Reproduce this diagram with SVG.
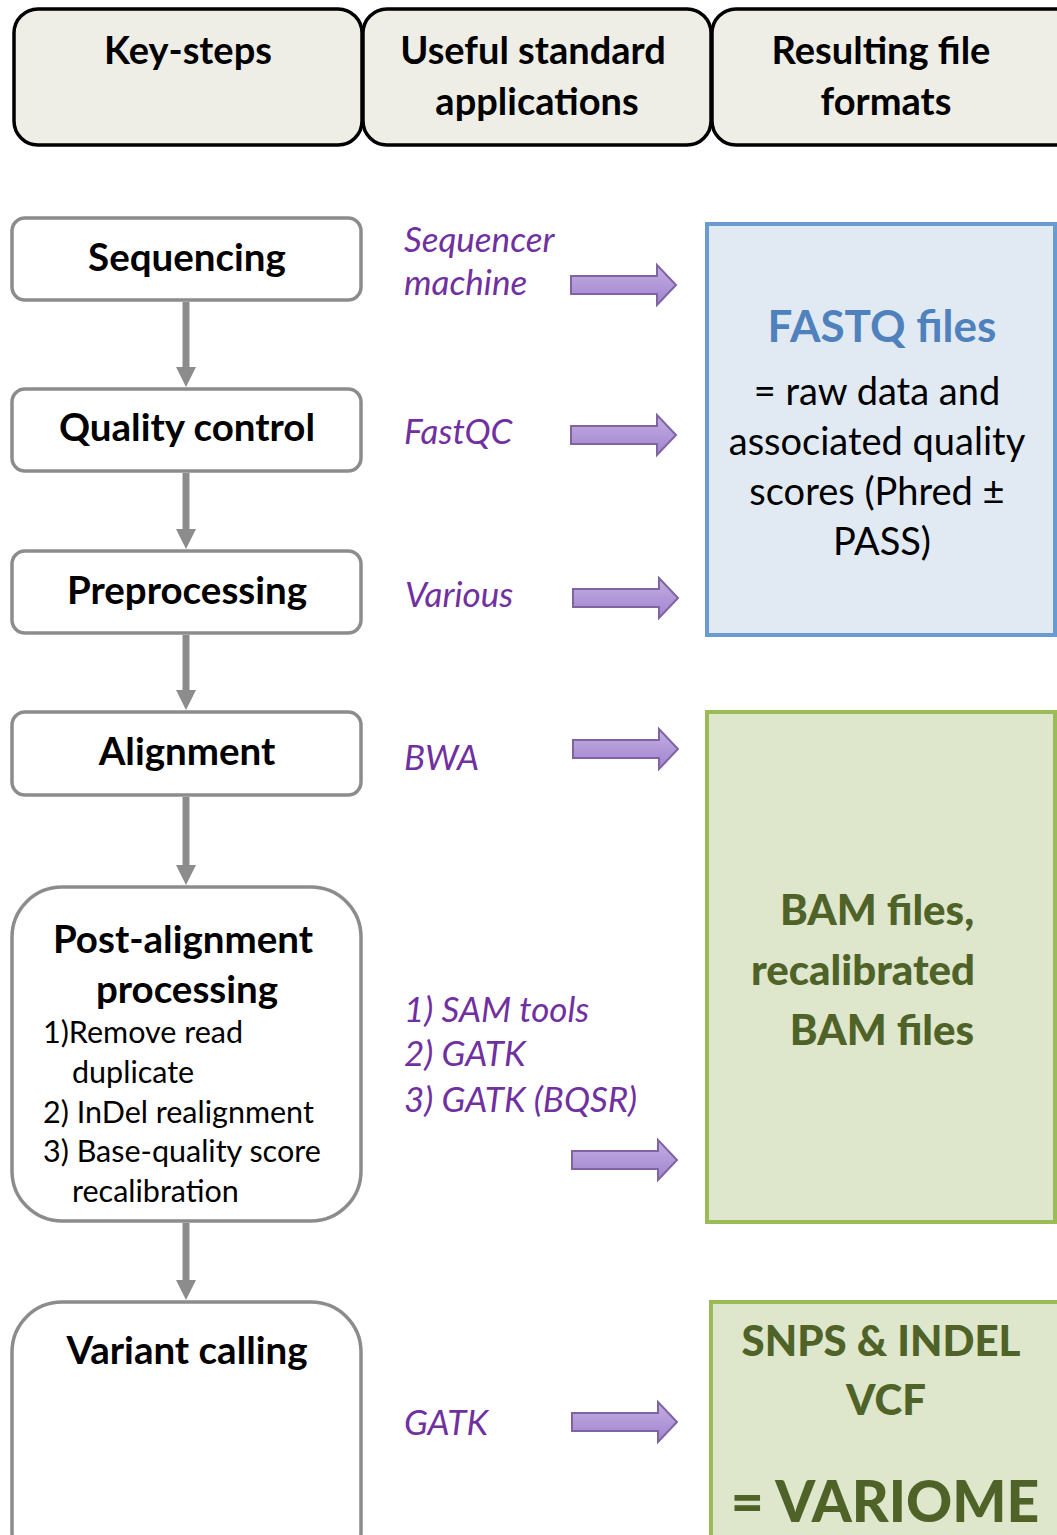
<svg xmlns="http://www.w3.org/2000/svg" width="1057" height="1535" viewBox="0 0 1057 1535">
  <defs>
    <linearGradient id="purpleFill" x1="0" y1="0" x2="0" y2="1">
      <stop offset="0" stop-color="#c2aee2"/>
      <stop offset="1" stop-color="#a184cf"/>
    </linearGradient>
    <!-- downward arrowhead, tip at origin -->
    <path id="downHead" d="M-10,-20 L10,-20 L0,0 Z"/>
    <!-- block arrow pointing right, origin at body left / arrow centre -->
    <path id="blockArrow" d="M0,-9 L86,-9 L86,-20 L105,0 L86,20 L86,9 L0,9 Z"/>
  </defs>
  <style>
    text { font-family: Lato, "Open Sans", "Liberation Sans", sans-serif; }
    .hdr { fill: #eeeee6; stroke: #000; stroke-width: 3.5; }
    .hdrT { font-size: 38px; font-weight: bold; fill: #000; text-anchor: middle; }
    .step { fill: #fff; stroke: #8c8c8c; stroke-width: 3.5; }
    .stepT { font-size: 38.5px; font-weight: bold; fill: #000; text-anchor: middle; }
    .sub { font-size: 30.5px; fill: #000; }
    .app { font-size: 35px; font-style: italic; fill: #7030a0; }
    .flow { stroke: #8c8c8c; stroke-width: 7; fill: none; }
    .head { fill: #8c8c8c; }
    .blk { fill: url(#purpleFill); stroke: #8064a2; stroke-width: 2; }
    .fastq { fill: #e1e9f3; stroke: #6a9bd0; stroke-width: 4; }
    .bam { fill: #dee6cb; stroke: #9bbb59; stroke-width: 4; }
    .blueT { font-size: 44px; font-weight: bold; fill: #4f81bd; text-anchor: middle; }
    .bodyT { font-size: 38px; fill: #000; text-anchor: middle; }
    .greenT { font-size: 42px; font-weight: 900; fill: #4f6228; text-anchor: middle; }
  </style>

  <!-- column headers -->
  <g id="hdr-keysteps">
    <rect class="hdr" x="14" y="9" width="348" height="136" rx="24"/>
    <text class="hdrT" x="188" y="64">Key-steps</text>
  </g>
  <g id="hdr-apps">
    <rect class="hdr" x="363" y="9" width="348" height="136" rx="24"/>
    <text class="hdrT" x="533" y="64">Useful standard</text>
    <text class="hdrT" x="537" y="115">applications</text>
  </g>
  <g id="hdr-formats">
    <rect class="hdr" x="712" y="9" width="370" height="136" rx="24"/>
    <text class="hdrT" x="881" y="64">Resulting file</text>
    <text class="hdrT" x="886" y="115">formats</text>
  </g>

  <!-- pipeline steps -->
  <g id="step-sequencing">
    <rect class="step" x="12" y="218" width="349" height="82" rx="13"/>
    <text class="stepT" x="187" y="271">Sequencing</text>
  </g>
  <g id="step-qc">
    <rect class="step" x="12" y="389" width="349" height="82" rx="13"/>
    <text class="stepT" x="187" y="441">Quality control</text>
  </g>
  <g id="step-preprocessing">
    <rect class="step" x="12" y="551" width="349" height="82" rx="13"/>
    <text class="stepT" x="187" y="604">Preprocessing</text>
  </g>
  <g id="step-alignment">
    <rect class="step" x="12" y="712" width="349" height="83" rx="13"/>
    <text class="stepT" x="187" y="765">Alignment</text>
  </g>
  <g id="step-postalignment">
    <rect class="step" x="12" y="887" width="349" height="334" rx="50"/>
    <text class="stepT" x="183" y="953">Post-alignment</text>
    <text class="stepT" x="187" y="1003">processing</text>
    <text class="sub" x="43" y="1043">1)Remove read</text>
    <text class="sub" x="72" y="1083">duplicate</text>
    <text class="sub" x="43" y="1123">2) InDel realignment</text>
    <text class="sub" x="43" y="1162">3) Base-quality score</text>
    <text class="sub" x="72" y="1202">recalibration</text>
  </g>
  <g id="step-variantcalling">
    <rect class="step" x="12" y="1302" width="349" height="280" rx="50"/>
    <text class="stepT" x="187" y="1364">Variant calling</text>
  </g>

  <!-- applications -->
  <g id="app-sequencer">
    <text class="app" x="404" y="252">Sequencer</text>
    <text class="app" x="404" y="295">machine</text>
  </g>
  <g id="app-fastqc"><text class="app" x="404" y="444">FastQC</text></g>
  <g id="app-various"><text class="app" x="405" y="607">Various</text></g>
  <g id="app-bwa"><text class="app" x="404" y="770">BWA</text></g>
  <g id="app-postalign">
    <text class="app" x="404" y="1022">1) SAM tools</text>
    <text class="app" x="404" y="1066">2) GATK</text>
    <text class="app" x="404" y="1112">3) GATK (BQSR)</text>
  </g>
  <g id="app-gatk"><text class="app" x="404" y="1435">GATK</text></g>

  <!-- resulting file formats -->
  <g id="fmt-fastq">
    <rect class="fastq" x="707" y="224" width="348" height="411"/>
    <text class="blueT" x="882" y="342">FASTQ files</text>
    <text class="bodyT" x="877" y="405">= raw data and</text>
    <text class="bodyT" x="877" y="455">associated quality</text>
    <text class="bodyT" x="877" y="505">scores (Phred ±</text>
    <text class="bodyT" x="882" y="555">PASS)</text>
  </g>
  <g id="fmt-bam">
    <rect class="bam" x="707" y="712" width="348" height="510"/>
    <text class="greenT" x="877" y="925">BAM files,</text>
    <text class="greenT" x="863" y="985">recalibrated</text>
    <text class="greenT" x="882" y="1045">BAM files</text>
  </g>
  <g id="fmt-vcf">
    <rect class="bam" x="711" y="1302" width="370" height="280"/>
    <text class="greenT" x="881" y="1356" style="font-size:42px">SNPS &amp; INDEL</text>
    <text class="greenT" x="886" y="1415" style="font-size:42px">VCF</text>
    <text class="greenT" x="885" y="1522" style="font-size:57px">= VARIOME</text>
  </g>

  <!-- connectors -->
  <g id="connectors">
    <line class="flow" x1="186" y1="302" x2="186" y2="370"/>
    <use href="#downHead" class="head" x="186" y="387"/>
    <line class="flow" x1="186" y1="473" x2="186" y2="532"/>
    <use href="#downHead" class="head" x="186" y="549"/>
    <line class="flow" x1="186" y1="635" x2="186" y2="693"/>
    <use href="#downHead" class="head" x="186" y="710"/>
    <line class="flow" x1="186" y1="797" x2="186" y2="868"/>
    <use href="#downHead" class="head" x="186" y="885"/>
    <line class="flow" x1="186" y1="1223" x2="186" y2="1283"/>
    <use href="#downHead" class="head" x="186" y="1300"/>
    <use href="#blockArrow" class="blk" x="571" y="285"/>
    <use href="#blockArrow" class="blk" x="571" y="435"/>
    <use href="#blockArrow" class="blk" x="573" y="598"/>
    <use href="#blockArrow" class="blk" x="573" y="749"/>
    <use href="#blockArrow" class="blk" x="572" y="1160"/>
    <use href="#blockArrow" class="blk" x="572" y="1422"/>
  </g>
</svg>
